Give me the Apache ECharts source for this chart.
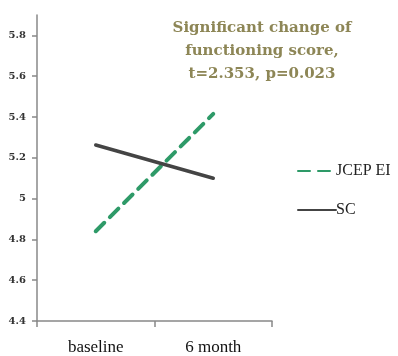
<!DOCTYPE html>
<html><head><meta charset="utf-8">
<script src="https://cdn.jsdelivr.net/npm/echarts@6/dist/echarts.min.js"></script>
<style>html,body{margin:0;padding:0;background:#fff}#c{width:398px;height:356px}</style>
</head><body><div id="c"></div>
<script>
const categories = ['baseline', '6 month'];
const jcepValues = [4.84, 5.415];
const scValues = [5.263, 5.10];
const yTicks = [4.4, 4.6, 4.8, 5, 5.2, 5.4, 5.6, 5.8];
const titleLines = ['Significant change of', 'functioning score,', 't=2.353, p=0.023'];

const chart = echarts.init(document.getElementById('c'), null, {renderer: 'canvas'});
chart.setOption({
  animation: false,
  backgroundColor: '#fff',
  title: {
    text: titleLines.join('\n'),
    left: 257, top: 12, textAlign: 'center',
    textStyle: {fontFamily: 'DejaVu Serif', fontWeight: 'bold', fontSize: 15, lineHeight: 23, color: '#8d8656'}
  },
  legend: {
    orient: 'vertical', left: 292, top: 158, itemWidth: 38, itemHeight: 10, itemGap: 23,
    itemStyle: {opacity: 0},
    textStyle: {fontFamily: 'Liberation Serif', fontSize: 16, color: '#222', padding: [0,0,0,-5]},
    data: ['JCEP EI', 'SC']
  },
  grid: {left: 37, right: 126, top: 15, bottom: 35},
  xAxis: {
    type: 'category', data: categories, boundaryGap: true,
    axisLine: {lineStyle: {color: '#888', width: 1.5}},
    axisTick: {show: true, length: 6, lineStyle: {color: '#888', width: 1.5}},
    axisLabel: {fontFamily: 'Liberation Serif', fontSize: 17, color: '#111', margin: 18}
  },
  yAxis: {
    type: 'value', min: 4.4, max: 5.9, interval: 0.1,
    axisLine: {show: true, lineStyle: {color: '#888', width: 1.5}},
    axisTick: {show: true, length: 5, lineStyle: {color: '#888', width: 1.5}, customValues: yTicks},
    splitLine: {show: false},
    axisLabel: {fontFamily: 'DejaVu Serif', fontWeight: 'bold', fontSize: 10, color: '#333', margin: 11, customValues: yTicks,
      formatter: v => String(Math.round(v * 10) / 10)}
  },
  series: [
    {name: 'JCEP EI', type: 'line', data: jcepValues, symbol: 'none', color: '#2e9a68',
     lineStyle: {color: '#2e9a68', width: 4, type: [12, 8], cap: 'round'}},
    {name: 'SC', type: 'line', data: scValues, symbol: 'none', color: '#444',
     lineStyle: {color: '#444', width: 3.5, cap: 'round'}}
  ]
});
</script></body></html>
